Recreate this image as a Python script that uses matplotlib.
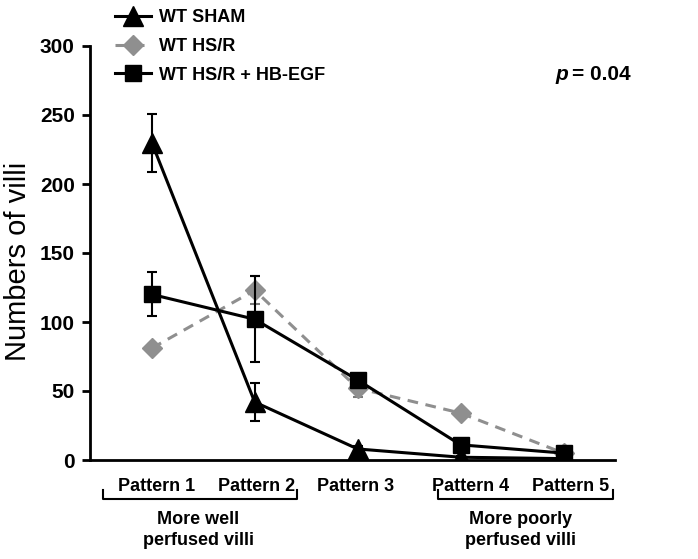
import numpy as np
import matplotlib.pyplot as plt
from matplotlib.transforms import blended_transform_factory

plt.rcParams['font.family'] = ['Liberation Sans', 'DejaVu Sans']

# data
patterns = ["Pattern 1", "Pattern 2", "Pattern 3", "Pattern 4", "Pattern 5"]
sham = [230, 42, 8, 2, 1]
sham_err = [21, 14, 2, 1, 1]
hsr = [81, 123, 52, 34, 5]
hsr_err = [3, 10, 6, 3, 1]
egf = [120, 102, 58, 11, 5]
egf_err = [16, 31, 3, 2, 1]

x = np.arange(len(patterns))

fig = plt.figure(figsize=(6.98, 5.59), dpi=100)
ax = fig.add_axes([90/698, 1 - 460/559, 525/698, 414/559])

c_hsr = ax.errorbar(x, hsr, yerr=hsr_err, color="#8f8f8f", ls=(0, (3.5, 2.5)), lw=2.2,
                    marker="D", ms=10, mfc="#8f8f8f", mec="#8f8f8f",
                    ecolor="#7a7a7a", elinewidth=1.5, capsize=3.5, capthick=1.5,
                    zorder=2)
c_egf = ax.errorbar(x, egf, yerr=egf_err, color="black", lw=2.2,
                    marker="s", ms=12, elinewidth=1.5, capsize=3.5, capthick=1.5,
                    zorder=3)
c_sham = ax.errorbar(x, sham, yerr=sham_err, color="black", lw=2.2,
                     marker="^", ms=15, elinewidth=1.5, capsize=3.5, capthick=1.5,
                     zorder=4)

ax.set_xlim(-0.6, 4.5)
ax.set_ylim(0, 300)
ax.set_yticks(np.arange(0, 301, 50))
ax.set_xticks([])
for s in ["top", "right"]:
    ax.spines[s].set_visible(False)
ax.spines["left"].set_linewidth(2)
ax.spines["bottom"].set_linewidth(2)
ax.tick_params(axis="y", direction="out", length=6, width=2, labelsize=15, pad=5)
for lbl in ax.get_yticklabels():
    lbl.set_fontweight("bold")
ax.set_ylabel("Numbers of villi", fontsize=21)
ax.yaxis.set_label_coords(-58/525, 0.48)

# pattern labels and brackets under the axis
tr = blended_transform_factory(ax.transData, ax.transAxes)
label_x = [0.05, 1.02, 1.98, 3.10, 4.07]
for lx, name in zip(label_x, patterns):
    ax.text(lx, -0.065, name, transform=tr, ha="center", va="center",
            fontsize=13, fontweight="bold")

for x0, x1 in [(-0.47, 1.41), (2.78, 4.48)]:
    ax.plot([x0, x0, x1, x1], [-0.072, -0.094, -0.094, -0.072], transform=tr,
            color="black", lw=1.5, clip_on=False)

ax.text(0.45, -0.17, "More well\nperfused villi", transform=tr, ha="center",
        va="center", fontsize=13, fontweight="bold", linespacing=1.3)
ax.text(3.58, -0.17, "More poorly\nperfused villi", transform=tr, ha="center",
        va="center", fontsize=13, fontweight="bold", linespacing=1.3)

ax.text(3.92, 0.93, "p", transform=tr, fontsize=15, fontweight="bold",
        style="italic", va="center")
ax.text(4.08, 0.93, "= 0.04", transform=tr, fontsize=15, fontweight="bold",
        va="center")

# legend shows only line + marker, no error bars
fig.legend([c_sham[0], c_hsr[0], c_egf[0]],
           ["WT SHAM", "WT HS/R", "WT HS/R + HB-EGF"], loc="upper left",
           bbox_to_anchor=(108/698, 1 - 2/559), frameon=False,
           prop={"weight": "bold", "size": 13}, handlelength=2.0,
           labelspacing=0.65, handletextpad=0.4, borderaxespad=0)

fig.savefig("out.png", dpi=100)
